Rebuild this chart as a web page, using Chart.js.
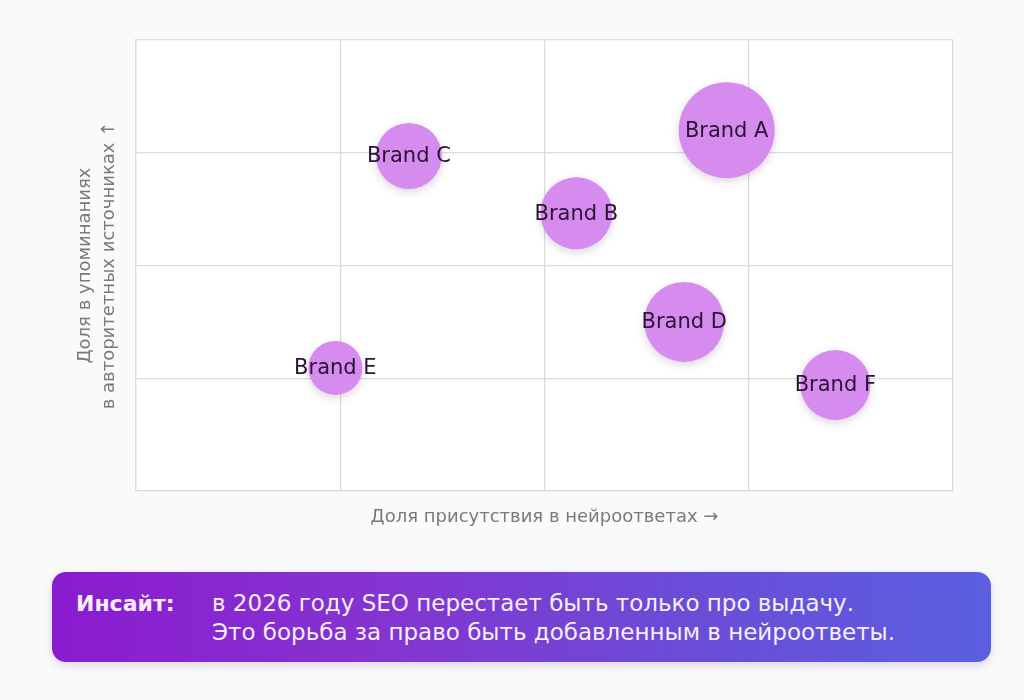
<!DOCTYPE html>
<html>
<head>
<meta charset="utf-8">
<script src="https://cdn.jsdelivr.net/npm/chart.js@4.4.1/dist/chart.umd.min.js"></script>
<style>
  html, body { margin: 0; padding: 0; background: #fafafa; width: 1024px; height: 700px; overflow: hidden; }
  #wrap { position: absolute; left: 0; top: 0; width: 1024px; height: 560px; }
  #insight {
    position: absolute; left: 52px; top: 572px; width: 939px; height: 90px;
    border-radius: 14px;
    background: linear-gradient(90deg, #8a1bcf 0%, #8534d0 35%, #6c4bd6 65%, #5a5fe0 100%);
    box-shadow: 0 3px 10px rgba(90, 40, 180, 0.18);
    font-family: "DejaVu Sans", sans-serif; color: #f6eefe;
  }
  #insight .lbl { position: absolute; left: 24px; top: 17px; font-size: 22px; line-height: 29px; font-weight: bold; }
  #insight .txt { position: absolute; left: 160px; top: 17px; font-size: 23px; line-height: 29px; }
</style>
</head>
<body>
<div id="wrap"><canvas id="c" width="1024" height="560"></canvas></div>
<div id="insight">
  <div class="lbl">Инсайт:</div>
  <div class="txt">в 2026 году SEO перестает быть только про выдачу.<br>Это борьба за право быть добавленным в нейроответы.</div>
</div>
<script>
const brands = ["Brand A", "Brand B", "Brand C", "Brand D", "Brand E", "Brand F"];
const presence = [72.3, 53.9, 33.4, 67.1, 24.4, 85.6];   // x: доля присутствия в нейроответах
const mentions = [80.0, 61.6, 74.3, 37.5, 27.3, 23.5];   // y: доля в упоминаниях
const volume = [48, 36, 33, 40, 27, 35];                  // bubble size
const axisTicks = [0, 25, 50, 75, 100];

const points = brands.map((b, i) => ({ x: presence[i], y: mentions[i], r: volume[i], label: b }));

const plotBg = {
  id: 'plotBg',
  beforeDraw(chart) {
    const { ctx, chartArea: a } = chart;
    ctx.save();
    ctx.fillStyle = '#ffffff';
    ctx.fillRect(a.left, a.top, a.right - a.left, a.bottom - a.top);
    ctx.restore();
  }
};
const shadow = {
  id: 'shadow',
  beforeDatasetDraw(chart) {
    const ctx = chart.ctx;
    ctx.save();
    ctx.shadowColor = 'rgba(60, 20, 80, 0.18)';
    ctx.shadowBlur = 8;
    ctx.shadowOffsetY = 3;
  },
  afterDatasetDraw(chart) { chart.ctx.restore(); }
};
const labels = {
  id: 'labels',
  afterDatasetsDraw(chart) {
    const ctx = chart.ctx;
    const meta = chart.getDatasetMeta(0);
    ctx.save();
    ctx.font = '21px "DejaVu Sans", sans-serif';
    ctx.fillStyle = '#2a1433';
    ctx.textAlign = 'center';
    ctx.textBaseline = 'middle';
    meta.data.forEach((el, i) => {
      ctx.fillText(brands[i], el.x, el.y + 1);
    });
    ctx.restore();
  }
};

new Chart(document.getElementById('c'), {
  type: 'bubble',
  data: {
    datasets: [{
      data: points,
      backgroundColor: '#d68bee',
      borderColor: '#d68bee',
      borderWidth: 0,
      hoverRadius: 0
    }]
  },
  options: {
    responsive: false,
    animation: false,
    layout: { autoPadding: false, padding: { left: 0, top: 40, right: 71, bottom: 0 } },
    plugins: { legend: { display: false }, tooltip: { enabled: false } },
    scales: {
      x: {
        type: 'linear', min: 0, max: 100,
        afterBuildTicks(s) { s.ticks = axisTicks.map(v => ({ value: v })); },
        ticks: { display: false },
        grid: { color: '#dcdcdc', lineWidth: 1.3, drawTicks: false },
        border: { color: '#dcdcdc', width: 1.3 },
        title: {
          display: true, text: 'Доля присутствия в нейроответах →',
          color: '#7a7a7a', font: { family: 'DejaVu Sans', size: 18 }, padding: { top: 0, bottom: 32 }
        },
        afterFit(s) { s.height = 69; }
      },
      y: {
        type: 'linear', min: 0, max: 100,
        afterBuildTicks(s) { s.ticks = axisTicks.map(v => ({ value: v })); },
        ticks: { display: false },
        grid: { color: '#dcdcdc', lineWidth: 1.3, drawTicks: false },
        border: { color: '#dcdcdc', width: 1.3 },
        title: {
          display: true, text: ['Доля в упоминаниях', 'в авторитетных источниках ↑'],
          color: '#7a7a7a', font: { family: 'DejaVu Sans', size: 18, lineHeight: 1.3 }, padding: { top: 74, bottom: 0 }
        },
        afterFit(s) { s.width = 136; }
      }
    }
  },
  plugins: [plotBg, shadow, labels]
});
</script>
</body>
</html>
